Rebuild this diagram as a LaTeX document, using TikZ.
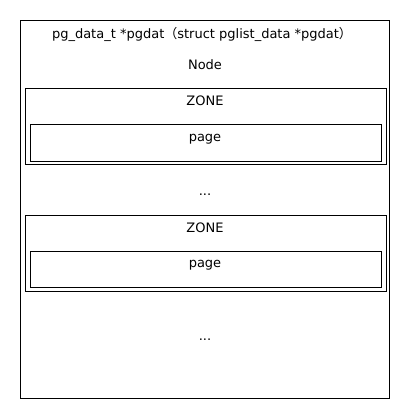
\documentclass[tikz,border=0pt]{standalone}
\usepackage{fontspec}
\setmainfont{DejaVu Sans}
\newfontfamily\cjk{Noto Sans CJK SC}
\usepackage{tikz}
\usetikzlibrary{positioning}

\begin{document}
\begin{tikzpicture}[x=1pt,y=-1pt,
  box/.style={draw, line width=1pt, inner sep=0pt, anchor=north west},
  txt/.style={font=\fontsize{13}{15}\selectfont, inner sep=0pt}]
\useasboundingbox (0,0) rectangle (410,420);
\coordinate (a) at (20,20);
\coordinate (b) at (25,88);
\coordinate (c) at (30,124);
\coordinate (d) at (25,215);
\coordinate (e) at (30,251);
% draws boxes
\node[box, minimum width=369pt, minimum height=378pt] (nodebox) at (a) {};
\node[box, minimum width=361pt, minimum height=76pt] (zoneA) at (b) {};
\node[box, minimum width=351pt, minimum height=37pt] (pageA) at (c) {};
\node[box, minimum width=361pt, minimum height=76pt] (zoneB) at (d) {};
\node[box, minimum width=351pt, minimum height=36pt] (pageB) at (e) {};
% labels boxes
\node[txt] (title) at (202,34) {pg\_data\_t *pgdat{\cjk （}struct pglist\_data *pgdat{\cjk ）}};
\node[txt] (nodelabel) at (205,65) {Node};
\node[txt] (zonelabelA) at (205,101) {ZONE};
\node[txt] (pagelabelA) at (205,139) {page};
\node[txt] (dotsA) at (205,195) {...};
\node[txt] (zonelabelB) at (205,228) {ZONE};
\node[txt] (pagelabelB) at (205,265) {page};
\node[txt] (dotsB) at (205,340) {...};
\end{tikzpicture}
\end{document}
